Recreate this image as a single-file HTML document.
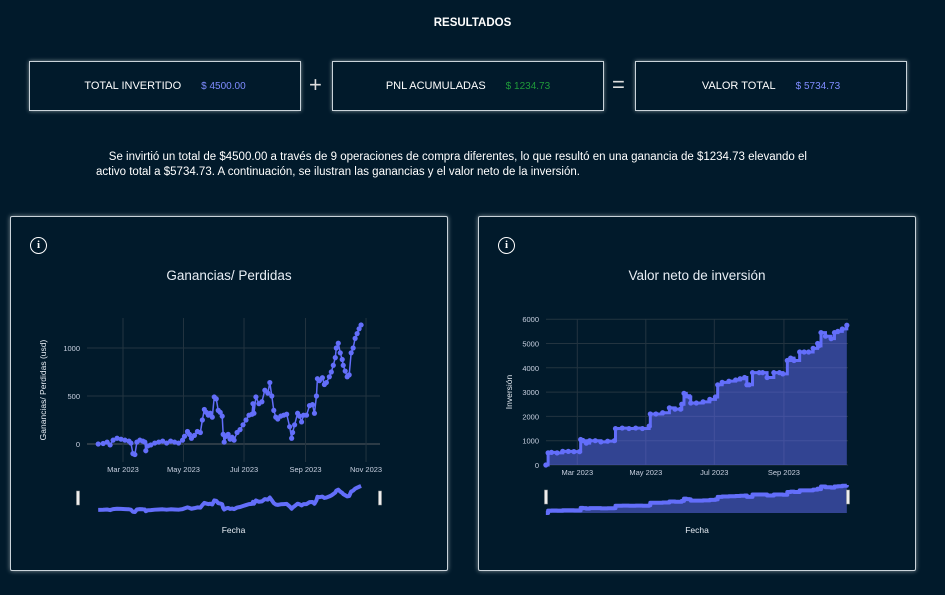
<!DOCTYPE html>
<html><head><meta charset="utf-8"><style>
body{margin:0;width:945px;height:595px;background:#011a2b;font-family:"Liberation Sans",sans-serif;color:#fff;position:relative;overflow:hidden}
.box{position:absolute;top:61px;height:50px;border:1.5px solid #c9d3da;box-shadow:0 0 4px rgba(255,255,255,.5);box-sizing:border-box;display:flex;align-items:center;justify-content:center;font-size:11px}
.box span.v{margin-left:20px;font-size:10px}
.op{position:absolute;top:72px;font-size:22px;color:#ddd}
.card{position:absolute;top:216px;width:438px;height:355px;border:1.5px solid #c9d3da;box-shadow:0 0 5px rgba(255,255,255,.5);box-sizing:border-box;border-radius:2px}
.info{position:absolute;left:19px;top:20px;width:15px;height:15px;border:1.5px solid #fff;border-radius:50%;font-size:11px;font-weight:bold;text-align:center;line-height:15px;font-family:"Liberation Serif",serif}
</style></head><body>
<div style="position:absolute;top:17px;width:945px;text-align:center;font-size:11.5px;font-weight:bold">RESULTADOS</div>
<div class="box" style="left:29px;width:272px">TOTAL INVERTIDO<span class="v" style="color:#7f8cff">$ 4500.00</span></div>
<div class="op" style="left:309px">+</div>
<div class="box" style="left:332px;width:272px">PNL ACUMULADAS<span class="v" style="color:#1f9a3a">$ 1234.73</span></div>
<div class="op" style="left:612px">=</div>
<div class="box" style="left:635px;width:272px">VALOR TOTAL<span class="v" style="color:#7f8cff">$ 5734.73</span></div>
<div style="position:absolute;left:96px;top:150px;width:750px;font-size:11.5px;line-height:15px">&nbsp;&nbsp;&nbsp;&nbsp;Se invirtió un total de $4500.00 a través de 9 operaciones de compra diferentes, lo que resultó en una ganancia de $1234.73 elevando el<br>activo total a $5734.73. A continuación, se ilustran las ganancias y el valor neto de la inversión.</div>
<div class="card" style="left:10px"><div class="info">i</div></div>
<div class="card" style="left:478px"><div class="info">i</div></div>
<svg id="c" width="945" height="595" style="position:absolute;left:0;top:0"></svg>
<script>
const pnlDates=[3,8,12,15,18,22,26,30,34,36,38,40,42,45,48,50,51,53,56,60,64,68,72,76,80,84,88,90,93,95,97,100,103,106,108,110,112,114,116,118,120,122,124,126,128,129,130,132,134,136,138,140,143,146,149,152,155,158,159,160,162,165,168,171,174,176,178,180,182,184,187,190,193,196,198,199,201,204,206,208,210,213,216,219,221,223,224,226,229,231,233,236,238,240,242,243,245,247,249,250,252,254,256,258,260,262,264,266,268];
const pnlValues=[0,5,20,-10,40,60,50,40,30,10,-100,-110,20,40,30,20,-70,-20,-10,10,20,30,10,30,20,10,40,80,130,100,60,90,130,120,250,360,330,300,320,280,490,470,350,330,290,100,20,80,100,50,70,40,120,150,200,250,300,310,420,320,490,420,440,560,530,640,500,350,280,260,290,300,310,180,60,120,200,320,290,230,300,300,400,410,320,500,680,660,690,620,640,700,750,820,900,1000,1050,950,880,820,760,700,720,950,1000,1100,1150,1200,1240];
const invDates=[0,2,5,10,15,20,25,30,31,33,36,39,44,49,55,61,62,68,74,80,86,92,93,98,104,110,115,120,121,123,125,128,129,134,140,146,151,153,157,163,169,173,177,179,181,184,190,193,197,203,208,211,215,218,221,226,230,234,238,242,243,245,249,254,257,260,264,268];
const invValues=[0,500,520,500,560,560,550,550,1050,1000,900,1000,1000,950,980,1000,1500,1520,1500,1520,1500,1600,2100,2100,2150,2350,2300,2300,2500,2950,2850,2800,2550,2550,2600,2700,2800,3300,3400,3450,3500,3550,3600,3300,3300,3800,3800,3800,3600,3800,3800,3750,4300,4400,4300,4650,4650,4650,4800,5000,4900,5450,5300,5200,5450,5500,5600,5750];
const pnlTicks=[0,500,1000], invTicks=[0,1000,2000,3000,4000,5000,6000];
const monthLabels=["Mar 2023","May 2023","Jul 2023","Sep 2023","Nov 2023"], monthDays=[28,89,150,212,273];
const S=document.getElementById('c'),NS='http://www.w3.org/2000/svg';
function el(t,a,txt){const e=document.createElementNS(NS,t);for(const k in a)e.setAttribute(k,a[k]);if(txt!=null)e.textContent=txt;S.appendChild(e);return e;}
function chart(o){
 const X=d=>o.x0+(d-o.d0)*o.kx, Y=v=>o.yz-v*o.ky;
 for(const t of o.ticks){const g=el('line',{x1:o.l,x2:o.r,y1:Y(t),y2:Y(t),stroke:t==0&&o.zero?'#3a4650':'#233440','stroke-width':t==0&&o.zero?1.5:1});
  const lb=el('text',{x:o.l-7,y:Y(t)+3,'text-anchor':'end','font-size':7.5,fill:'#c8d0e0'},t);}
 monthDays.forEach((d,i)=>{if(X(d)>o.r+o.lblPad)return;const g=el('line',{x1:X(d),x2:X(d),y1:o.t,y2:o.b,stroke:'#233440'});
  const lb=el('text',{x:X(d),y:o.b+10,'text-anchor':'middle','font-size':7.5,fill:'#c8d0e0'},monthLabels[i]);});
 let pts=o.dates.map((d,i)=>[X(d),Y(o.vals[i])]);
 if(o.step){const p2=[];pts.forEach((p,i)=>{if(i)p2.push([p[0],pts[i-1][1]]);p2.push(p)});pts=p2;}
 const ps=pts.map(p=>p.join(',')).join(' ');
 if(o.fill){const a=el('polygon',{points:`${pts[0][0]},${Y(0)} ${ps} ${pts[pts.length-1][0]},${Y(0)}`,fill:'rgba(99,110,250,0.5)'});}
 const ln=el('polyline',{points:ps,fill:'none',stroke:'#636efa','stroke-width':o.lw});
 o.dates.forEach((d,i)=>{const c=el('circle',{cx:X(d),cy:Y(o.vals[i]),r:2.6,fill:'#636efa'});});
 const mn=Math.min(0,...o.vals),mx=Math.max(...o.vals),sy=v=>o.sb-(v-mn)/(mx-mn)*(o.sb-o.st);
 let sp=o.dates.map((d,i)=>[X(d),sy(o.vals[i])]);
 if(o.step){const p2=[];sp.forEach((p,i)=>{if(i)p2.push([p[0],sp[i-1][1]]);p2.push(p)});sp=p2;}
 const sps=sp.map(p=>p.join(',')).join(' ');
 if(o.fill){const a=el('polygon',{points:`${sp[0][0]},${o.sb} ${sps} ${sp[sp.length-1][0]},${o.sb}`,fill:'rgba(99,110,250,0.5)'});}
 const sl=el('polyline',{points:sps,fill:'none',stroke:'#636efa','stroke-width':4,'stroke-linejoin':'round'});
 for(const hx of o.handles){const h=el('rect',{x:hx-1.5,y:o.hy,width:3,height:14,fill:'#eee',stroke:'#999','stroke-width':.5});}
 const ti=el('text',{x:o.cx,y:o.ty,'text-anchor':'middle','font-size':13.5,fill:'#e8eef5'},o.title);
 const xt=el('text',{x:(o.l+o.r)/2,y:533,'text-anchor':'middle','font-size':8.5,fill:'#e8eef5'},'Fecha');
 const yt=el('text',{x:0,y:0,'text-anchor':'middle','font-size':8.5,fill:'#e8eef5',transform:`translate(${o.yx},${(o.t+o.b)/2}) rotate(-90)`},o.ytitle);
}
chart({dates:pnlDates,vals:pnlValues,ticks:pnlTicks,x0:123,d0:28,kx:0.992,yz:444,ky:0.096,l:87,r:380,t:318,b:462,zero:true,lw:1.5,step:false,fill:false,sb:512,st:486,hy:491,handles:[78,380],cx:229,ty:280,title:'Ganancias/ Perdidas',yx:46,ytitle:'Ganancias/ Perdidas (usd)',lblPad:25});
chart({dates:invDates,vals:invValues,ticks:invTicks,x0:577.3,d0:28,kx:1.123,yz:465,ky:0.0243,l:546,r:848,t:319,b:465,zero:false,lw:3,step:true,fill:true,sb:513,st:485,hy:490,handles:[546,848],cx:697,ty:280,title:'Valor neto de inversión',yx:512,ytitle:'Inversión',lblPad:-5});
</script>
</body></html>
